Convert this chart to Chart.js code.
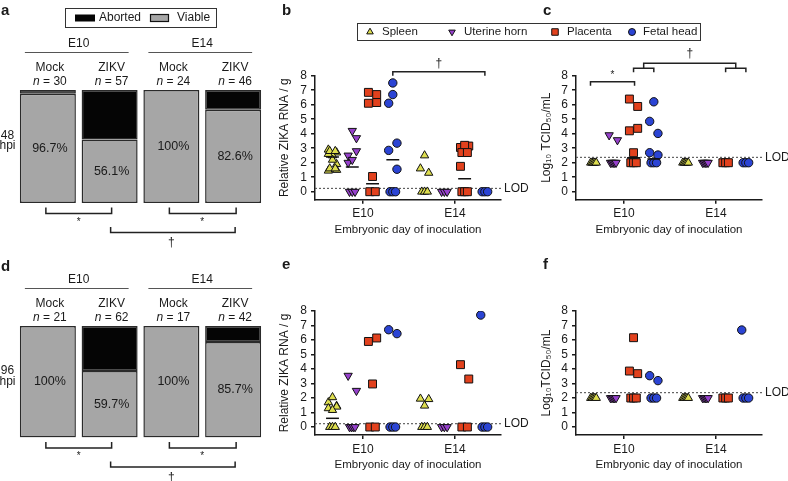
<!DOCTYPE html>
<html><head><meta charset="utf-8">
<script src="https://cdn.jsdelivr.net/npm/chart.js@4.4.0/dist/chart.umd.min.js"></script>
<style>
html,body{margin:0;padding:0;background:#fff;width:788px;height:481px;overflow:hidden;position:relative}
canvas{position:absolute;display:block}
</style></head><body>
<canvas id="pa" width="270" height="250" style="left:0;top:0"></canvas>
<canvas id="pd" width="270" height="231" style="left:0;top:250px"></canvas>
<canvas id="pb" width="440" height="250" style="left:270px;top:0"></canvas>
<canvas id="pc" width="258" height="250" style="left:530px;top:0"></canvas>
<canvas id="pe" width="260" height="231" style="left:270px;top:250px"></canvas>
<canvas id="pf" width="258" height="231" style="left:530px;top:250px"></canvas>
<script>
// ---------- data ----------
const days = ['E10', 'E14'];
const treatments = ['Mock', 'ZIKV', 'Mock', 'ZIKV'];
const n48 = [30, 57, 24, 46];
const viable48 = [96.7, 56.1, 100, 82.6];
const aborted48 = [3.3, 43.9, 0, 17.4];
const n96 = [21, 62, 17, 42];
const viable96 = [100, 59.7, 100, 85.7];
const aborted96 = [0, 40.3, 0, 14.3];
const tissues = ['Spleen', 'Uterine horn', 'Placenta', 'Fetal head'];
const yTickValues = [0, 1, 2, 3, 4, 5, 6, 7, 8];

// 48 hpi, relative ZIKA RNA / g : [E10 values, E14 values]
const rna48Spleen   = [[2.9, 2.7, 2.5, 2.6, 1.9, 2.2, 1.45, 1.5, 2.8, 2.8, 1.6, 1.6], [1.6, 1.3, 2.5, 0, 0, 0]];
const rna48Uterine  = [[2.5, 3.7, 4.2, 2.0, 2.8, 2.2, 0, 0, 0], [0, 0, 0]];
const rna48Placenta = [[6.85, 6.7, 1.05, 6.1, 6.15, 0, 0], [3.05, 3.15, 3.2, 1.75, 2.7, 2.7, 0, 0, 0]];
const rna48Fetal    = [[2.85, 3.35, 7.5, 6.1, 1.55, 6.7, 0, 0, 0], [0, 0, 0]];
const rna48Means    = [[2.4, 1.7, 0.55, 2.2], [null, null, 0.9, null]];

// 48 hpi, log10 TCID50/mL
const tcid48Spleen   = [[2, 2, 2, 2, 2], [2, 2, 2, 2, 2]];
const tcid48Uterine  = [[3.9, 3.56, 2, 2, 2, 2, 2], [2, 2, 2, 2, 2]];
const tcid48Placenta = [[6.39, 5.88, 2.69, 4.2, 4.37, 2, 2, 2], [2, 2, 2]];
const tcid48Fetal    = [[2.69, 2.53, 6.2, 4.85, 4.02, 2, 2, 2], [2, 2, 2]];
const tcid48Means    = [[null, null, 2.35, 2.25], [null, null, null, null]];

// 96 hpi, relative ZIKA RNA / g
const rna96Spleen   = [[1.7, 1.45, 2.05, 1.29, 1.4, 1.17, 0, 0, 0], [1.95, 1.92, 1.47, 0, 0, 0]];
const rna96Uterine  = [[3.54, 2.5, 0, 0, 0, 0], [0, 0, 0]];
const rna96Placenta = [[5.9, 6.14, 2.97, 0, 0], [4.3, 3.31, 0, 0]];
const rna96Fetal    = [[6.71, 6.44, 0, 0, 0], [7.72, 0, 0, 0]];
const rna96Means    = [[0.6, null, null, null], [null, null, null, null]];

// 96 hpi, log10 TCID50/mL
const tcid96Spleen   = [[2, 2, 2, 2, 2], [2, 2, 2, 2, 2]];
const tcid96Uterine  = [[2, 2, 2, 2, 2], [2, 2, 2, 2, 2]];
const tcid96Placenta = [[3.86, 3.68, 6.16, 2, 2, 2], [2, 2, 2]];
const tcid96Fetal    = [[3.54, 3.2, 2, 2, 2], [6.69, 2, 2, 2]];
const tcid96Means    = [[null, null, null, null], [null, null, null, null]];

const lodRna = 0.23;
const lodTcid = 2.37;

// ---------- styling ----------
const FONT = '"Liberation Sans", Arial, Helvetica, sans-serif';
Chart.defaults.font.family = FONT;
Chart.defaults.font.size = 12;
Chart.defaults.color = '#1a1a1a';
const INK = '#1a1a1a';
const markerStyle = ['triangle', 'triangle', 'rect', 'circle'];
const markerRot = [0, 180, 0, 0];
const markerRad = [4.8, 4.8, 5.6, 4.2];
const markerCol = ['#dede4f', '#9640cc', '#e2411d', '#2b44d4'];
const groupShift = [-0.33, -0.115, 0.105, 0.325];
const X_MIN = 0.48, X_MAX = 2.5, Y_MIN = -0.55;

function spread(vals) {
  const cnt = {}; vals.forEach(v => cnt[v] = (cnt[v] || 0) + 1);
  const seen = {}; let u = 0; const pat = [-1, 1, 0];
  return vals.map(v => {
    if (cnt[v] > 1) { const k = (seen[v] = (seen[v] || 0) + 1) - 1; return (k / (cnt[v] - 1) - 0.5) * 0.06; }
    return pat[(u++) % 3] * 0.045;
  });
}

function bracket(ctx, x1, x2, yLine, yLeg) {
  ctx.beginPath();
  ctx.moveTo(x1, yLeg); ctx.lineTo(x1, yLine); ctx.lineTo(x2, yLine); ctx.lineTo(x2, yLeg);
  ctx.stroke();
}

function text(ctx, s, x, y, font, align) {
  ctx.font = font; ctx.textAlign = align || 'center'; ctx.textBaseline = 'middle';
  ctx.fillStyle = INK; ctx.fillText(s, x, y);
}

// ---------- bar panels (a, d) ----------
function barPanel(id, viable, aborted, ns, o) {
  const annot = {
    id: 'annot' + id,
    afterDraw(chart) {
      const ctx = chart.ctx;
      const mv = chart.getDatasetMeta(0).data;
      const xs = mv.map(e => e.x);
      const top = chart.chartArea.top, bottom = chart.chartArea.bottom;
      ctx.save();
      text(ctx, o.letter, 1, o.letterY, 'bold 15px ' + FONT, 'left');
      if (o.legend) {
        ctx.strokeStyle = '#333'; ctx.lineWidth = 1;
        ctx.strokeRect(65.5, 8.5, 151, 19);
        ctx.fillStyle = '#050505'; ctx.fillRect(75, 14.5, 20, 7);
        text(ctx, 'Aborted', 99, 18, '12px ' + FONT, 'left');
        ctx.fillStyle = '#a6a6a6'; ctx.fillRect(150, 14.5, 19, 7);
        ctx.strokeStyle = '#111'; ctx.lineWidth = 1.2; ctx.strokeRect(150.5, 14.5, 18, 7);
        text(ctx, 'Viable', 177, 18, '12px ' + FONT, 'left');
      }
      ctx.strokeStyle = '#555'; ctx.lineWidth = 1;
      days.forEach((d, k) => {
        const x1 = xs[2 * k], x2 = xs[2 * k + 1];
        text(ctx, d, (x1 + x2) / 2, top - 46, '12px ' + FONT);
        ctx.beginPath(); ctx.moveTo(x1 - 23, top - 37.5); ctx.lineTo(x2 + 19, top - 37.5); ctx.stroke();
      });
      treatments.forEach((t, i) => {
        text(ctx, t, xs[i] + 2, top - 22, '12px ' + FONT);
        ctx.font = 'italic 12px ' + FONT; const w1 = ctx.measureText('n').width;
        const rest = ' = ' + ns[i];
        ctx.font = '12px ' + FONT; const w2 = ctx.measureText(rest).width;
        const sx = xs[i] + 2 - (w1 + w2) / 2;
        text(ctx, 'n', sx, top - 8.5, 'italic 12px ' + FONT, 'left');
        text(ctx, rest, sx + w1, top - 8.5, '12px ' + FONT, 'left');
        const el = mv[i];
        const v = viable[i];
        const lbl = (Number.isInteger(v) ? v : v.toFixed(1)) + '%';
        text(ctx, lbl, xs[i] + 2, (el.y + el.base) / 2, '12.5px ' + FONT);
      });
      text(ctx, o.hpi[0], 7.5, (top + bottom) / 2 - 11, '12px ' + FONT);
      text(ctx, o.hpi[1], 7.5, (top + bottom) / 2 - 0.5, '12px ' + FONT);
      ctx.strokeStyle = '#222'; ctx.lineWidth = 1.5;
      bracket(ctx, xs[0] - 2, xs[1] + 2, bottom + 10.5, bottom + 4.5);
      bracket(ctx, xs[2] - 2, xs[3] + 3, bottom + 10.5, bottom + 4.5);
      text(ctx, '*', (xs[0] + xs[1]) / 2, bottom + 19, '10px ' + FONT);
      text(ctx, '*', (xs[2] + xs[3]) / 2, bottom + 19, '10px ' + FONT);
      bracket(ctx, xs[1] + 1, xs[3] + 2, bottom + 29.5, bottom + 24);
      text(ctx, '\u2020', (xs[1] + xs[3]) / 2, bottom + 40, '12px ' + FONT);
      ctx.restore();
    }
  };
  return new Chart(document.getElementById(id), {
    type: 'bar',
    data: {
      labels: treatments,
      datasets: [
        { label: 'Viable', data: viable, backgroundColor: '#a6a6a6', borderColor: '#2a2a2a', borderWidth: 1.5, borderSkipped: false, barPercentage: 0.907, categoryPercentage: 1 },
        { label: 'Aborted', data: aborted, backgroundColor: '#050505', borderColor: '#2a2a2a', borderWidth: 1.5, borderSkipped: false, barPercentage: 0.907, categoryPercentage: 1 }
      ]
    },
    options: {
      responsive: false, animation: false, devicePixelRatio: 1,
      layout: { padding: o.padding },
      scales: { x: { display: false, stacked: true }, y: { display: false, stacked: true, min: 0, max: 100 } },
      plugins: { legend: { display: false }, tooltip: { enabled: false } }
    },
    plugins: [annot]
  });
}

barPanel('pa', viable48, aborted48, n48, { letter: 'a', letterY: 11, legend: true, hpi: ['48', 'hpi'], padding: { left: 17, right: 6, top: 90, bottom: 47 } });
barPanel('pd', viable96, aborted96, n96, { letter: 'd', letterY: 17, legend: false, hpi: ['96', 'hpi'], padding: { left: 17, right: 6, top: 76, bottom: 43.5 } });

// ---------- dot panels (b, c, e, f) ----------
function dotPanel(id, series, means, lod, o) {
  const datasets = [];
  series.forEach((byDay, t) => {
    const pts = [];
    byDay.forEach((vals, d) => {
      const off = spread(vals);
      vals.forEach((v, i) => pts.push({ x: d + 1 + groupShift[t] + off[i], y: v }));
    });
    datasets.push({ type: 'scatter', label: tissues[t], data: pts, pointStyle: markerStyle[t], rotation: markerRot[t],
      pointRadius: markerRad[t], backgroundColor: markerCol[t], borderColor: '#111', borderWidth: 1, order: 1 });
  });
  const mp = [];
  means.forEach((row, d) => row.forEach((m, t) => {
    if (m == null) return;
    const c = d + 1 + groupShift[t];
    mp.push({ x: c - 0.07, y: m }, { x: c + 0.07, y: m }, { x: c, y: null });
  }));
  datasets.push({ type: 'line', label: 'mean', data: mp, borderColor: '#111', borderWidth: 1.5, pointRadius: 0, spanGaps: false, order: 0 });
  datasets.push({ type: 'line', label: 'LOD', data: [{ x: X_MIN, y: lod }, { x: X_MAX, y: lod }], borderColor: '#555', borderWidth: 1.1, borderDash: [2, 2], pointRadius: 0, order: 10, clip: false });

  const annot = {
    id: 'annot' + id,
    afterDraw(chart) {
      const ctx = chart.ctx, xs = chart.scales.x, ys = chart.scales.y, ca = chart.chartArea;
      ctx.save();
      text(ctx, o.letter, o.letterX, o.letterY, 'bold 15px ' + FONT, 'left');
      text(ctx, 'LOD', ca.right + 3, ys.getPixelForValue(lod), '12px ' + FONT, 'left');
      ctx.strokeStyle = '#222'; ctx.lineWidth = 1.5;
      const top = ys.getPixelForValue(8);
      if (o.bracketB) {
        const x1 = xs.getPixelForValue(1 + groupShift[3]), x2 = xs.getPixelForValue(2 + groupShift[3]);
        bracket(ctx, x1, x2, top - 4, top);
        text(ctx, '\u2020', (x1 + x2) / 2, top - 12.5, '12px ' + FONT);
      }
      if (o.bracketC) {
        const a1 = xs.getPixelForValue(1 + groupShift[0]) - 3, a2 = xs.getPixelForValue(1 + groupShift[2]) + 1;
        bracket(ctx, a1, a2, top + 6, top + 10);
        text(ctx, '*', (a1 + a2) / 2, top - 0.5, '10px ' + FONT);
        const p1 = xs.getPixelForValue(1 + groupShift[2]), f1 = xs.getPixelForValue(1 + groupShift[3]);
        const p2 = xs.getPixelForValue(2 + groupShift[2]), f2 = xs.getPixelForValue(2 + groupShift[3]);
        bracket(ctx, p1, f1, top - 7.5, top - 3.5);
        bracket(ctx, p2, f2, top - 7.5, top - 3.5);
        const m1 = (p1 + f1) / 2, m2 = (p2 + f2) / 2;
        bracket(ctx, m1, m2, top - 12.5, top - 7.5);
        text(ctx, '\u2020', (m1 + m2) / 2, top - 22.5, '12px ' + FONT);
      }
      if (o.legend) {
        const L = o.legend;
        ctx.strokeStyle = '#333'; ctx.lineWidth = 1;
        ctx.strokeRect(L.x + 0.5, L.y + 0.5, L.w, L.h);
        const cy = L.y + L.h / 2 + 0.5;
        const mx = [100, 182, 285, 362], tx = [112, 194, 297, 373];
        const lr = [3.8, 3.8, 4.6, 3.5];
        tissues.forEach((t, i) => {
          ctx.fillStyle = markerCol[i]; ctx.strokeStyle = '#111'; ctx.lineWidth = 1;
          Chart.helpers.drawPoint(ctx, { pointStyle: markerStyle[i], rotation: markerRot[i], radius: lr[i], borderWidth: 1 }, mx[i], cy);
          text(ctx, t, tx[i], cy, '11.5px ' + FONT, 'left');
        });
      }
      ctx.restore();
    }
  };

  return new Chart(document.getElementById(id), {
    type: 'scatter',
    data: { datasets },
    options: {
      responsive: false, animation: false, devicePixelRatio: 1,
      layout: { padding: o.padding },
      scales: {
        x: {
          type: 'linear', min: X_MIN, max: X_MAX,
          afterBuildTicks: s => { s.ticks = days.map((d, i) => ({ value: i + 1 })); },
          afterFit: s => { s.height = o.xH; },
          ticks: { callback: v => days[v - 1], padding: 3, maxRotation: 0, autoSkip: false, color: INK, font: { size: 12 } },
          grid: { display: true, drawOnChartArea: false, drawTicks: true, tickLength: 4, color: INK, lineWidth: 1.5 },
          border: { display: true, color: INK, width: 1.5 },
          title: { display: true, text: 'Embryonic day of inoculation', color: INK, font: { size: 11.5 }, padding: { top: 0, bottom: o.xtp } }
        },
        y: {
          type: 'linear', min: Y_MIN, max: 8,
          afterBuildTicks: s => { s.ticks = yTickValues.map(v => ({ value: v })); },
          afterFit: s => { s.width = o.yW; },
          ticks: { padding: 4, autoSkip: false, color: INK, font: { size: 12 } },
          grid: { display: true, drawOnChartArea: false, drawTicks: true, tickLength: 4, color: INK, lineWidth: 1.5 },
          border: { display: true, color: INK, width: 1.5 },
          title: { display: true, text: o.yTitle, color: INK, font: { size: 12 }, padding: { top: o.ytp, bottom: 0 } }
        }
      },
      plugins: { legend: { display: false }, tooltip: { enabled: false } }
    },
    plugins: [annot]
  });
}

const rnaTitle = 'Relative ZIKA RNA / g';
dotPanel('pb', [rna48Spleen, rna48Uterine, rna48Placenta, rna48Fetal], rna48Means, lodRna, {
  letter: 'b', letterX: 12, letterY: 11, yTitle: rnaTitle, yW: 45, xH: 41.3, xtp: 3.8, ytp: 7.8, bracketB: true,
  legend: { x: 87, y: 23, w: 343, h: 17 },
  padding: { left: 0, top: 75.7, right: 209, bottom: 9 } });
dotPanel('pc', [tcid48Spleen, tcid48Uterine, tcid48Placenta, tcid48Fetal], tcid48Means, lodTcid, {
  letter: 'c', letterX: 13, letterY: 11, yTitle: 'Log\u2081\u2080 TCID\u2085\u2080/mL', yW: 46, xH: 41.3, xtp: 3.8, ytp: 9.8, bracketC: true,
  padding: { left: 0, top: 75.7, right: 26, bottom: 9 } });
dotPanel('pe', [rna96Spleen, rna96Uterine, rna96Placenta, rna96Fetal], rna96Means, lodRna, {
  letter: 'e', letterX: 12, letterY: 15, yTitle: rnaTitle, yW: 45, xH: 41, xtp: 3.8, ytp: 7.8,
  padding: { left: 0, top: 61, right: 29, bottom: 5 } });
dotPanel('pf', [tcid96Spleen, tcid96Uterine, tcid96Placenta, tcid96Fetal], tcid96Means, lodTcid, {
  letter: 'f', letterX: 13, letterY: 15, yTitle: 'Log\u2081\u2080TCID\u2085\u2080/mL', yW: 46, xH: 41, xtp: 3.8, ytp: 9.8,
  padding: { left: 0, top: 61, right: 26, bottom: 5 } });
</script>
</body></html>
